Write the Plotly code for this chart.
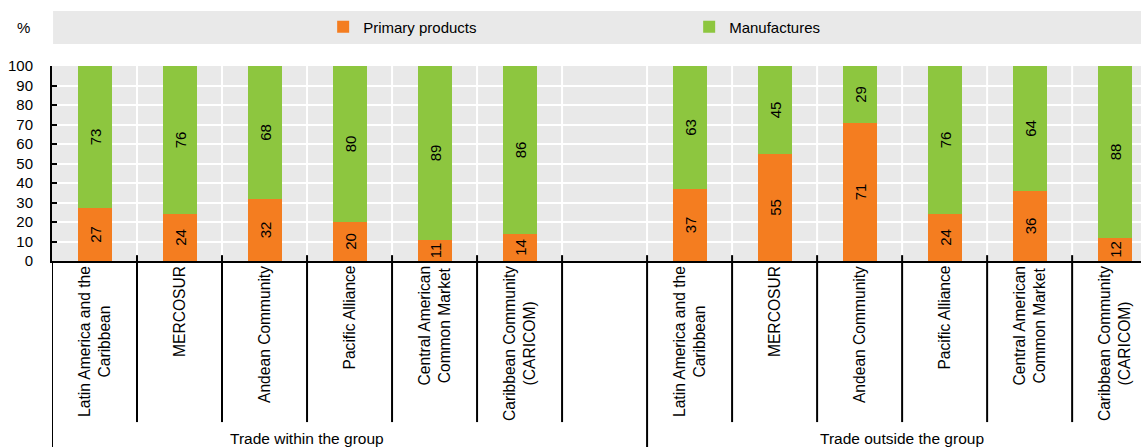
import plotly.graph_objects as go

FONT = "Liberation Sans, Arial, sans-serif"
ORANGE = "#F47D20"
GREEN = "#8DC63F"
GREY = "#E9E9E9"

groups = ["Trade within the group", "Trade outside the group"]
blocs = [
    "Latin America and the<br>Caribbean",
    "MERCOSUR",
    "Andean Community",
    "Pacific Alliance",
    "Central American<br>Common Market",
    "Caribbean Community<br>(CARICOM)",
]
primary_within = [27, 24, 32, 20, 11, 14]
manuf_within = [73, 76, 68, 80, 89, 86]
primary_outside = [37, 55, 71, 24, 36, 12]
manuf_outside = [63, 45, 29, 76, 64, 88]

# one empty slot between the two groups
labels = blocs + [""] + blocs
primary = primary_within + [None] + primary_outside
manuf = manuf_within + [None] + manuf_outside
xpos = list(range(len(labels)))

fig = go.Figure()
for name, vals, col in [("Primary products", primary, ORANGE), ("Manufactures", manuf, GREEN)]:
    fig.add_trace(go.Bar(
        x=xpos, y=vals, name=name,
        marker=dict(color=col, line=dict(width=0)),
        width=0.4,
        text=[("" if v is None else str(v)) for v in vals],
        textposition="inside",
        insidetextanchor="middle",
        textangle=-90,
        constraintext="none",
        textfont=dict(family=FONT, size=15, color="black"),
        hoverinfo="skip",
    ))

shapes = []
# grey legend band
shapes.append(dict(type="rect", xref="paper", yref="paper", x0=0.001, x1=1.05,
                   y0=1.113, y1=1.282, fillcolor=GREY, line=dict(width=0), layer="below"))
n = len(labels)
for k in range(n):
    b = k + 0.5
    # white divider inside the plot
    shapes.append(dict(type="line", xref="x", yref="paper", x0=b, x1=b, y0=0, y1=1,
                       line=dict(color="white", width=2), layer="below"))
    # black divider below the axis
    bottom = -1.0 if k == 6 else -0.826
    shapes.append(dict(type="line", xref="x", yref="paper", x0=b, x1=b, y0=0.03, y1=bottom,
                       line=dict(color="black", width=2)))
shapes.append(dict(type="line", xref="x", yref="paper", x0=-0.5, x1=-0.5, y0=0, y1=-1.0,
                   line=dict(color="black", width=2)))

annotations = [dict(text="%", xref="paper", yref="paper", x=-0.026, y=1.2, showarrow=False,
                    font=dict(family=FONT, size=15, color="black"), xanchor="center",
                    yanchor="middle")]
for i, lab in enumerate(labels):
    if not lab:
        continue
    annotations.append(dict(text=lab, x=i, xref="x", yref="paper", y=-0.015, yanchor="top",
                            xanchor="center", textangle=-90, showarrow=False, align="center",
                            font=dict(family=FONT, size=15.6, color="black")))
for g, cx in zip(groups, [2.5, 9.5]):
    annotations.append(dict(text=g, x=cx, xref="x", yref="paper", y=-0.908, yanchor="middle",
                            showarrow=False, font=dict(family=FONT, size=15.5, color="black")))

fig.update_layout(
    width=1141, height=447,
    margin=dict(l=52, r=0, t=66, b=186, autoexpand=False),
    paper_bgcolor="white", plot_bgcolor=GREY,
    barmode="stack", bargap=0,
    font=dict(family=FONT, size=15, color="black"),
    showlegend=True,
    legend=dict(orientation="h", x=0.249, y=1.2, xanchor="left", yanchor="middle",
                bgcolor="rgba(0,0,0,0)", entrywidth=321, entrywidthmode="pixels",
                traceorder="normal", font=dict(family=FONT, size=15), itemclick=False),
    shapes=shapes, annotations=annotations,
    xaxis=dict(range=[-0.5, 12.31], showticklabels=False, showgrid=False, zeroline=False,
               showline=True, linecolor="black", linewidth=2, ticks=""),
    yaxis=dict(range=[0, 100], dtick=10, tick0=0, showgrid=True, gridcolor="white", gridwidth=2,
               zeroline=False, showline=True, linecolor="black", linewidth=2,
               ticks="inside", ticklen=5, tickcolor="black", tickwidth=2,
               ticklabelstandoff=14, tickfont=dict(family=FONT, size=15)),
)

fig.write_html("out.html", config={"displayModeBar": False},
               post_script="document.body.style.margin='0';")
